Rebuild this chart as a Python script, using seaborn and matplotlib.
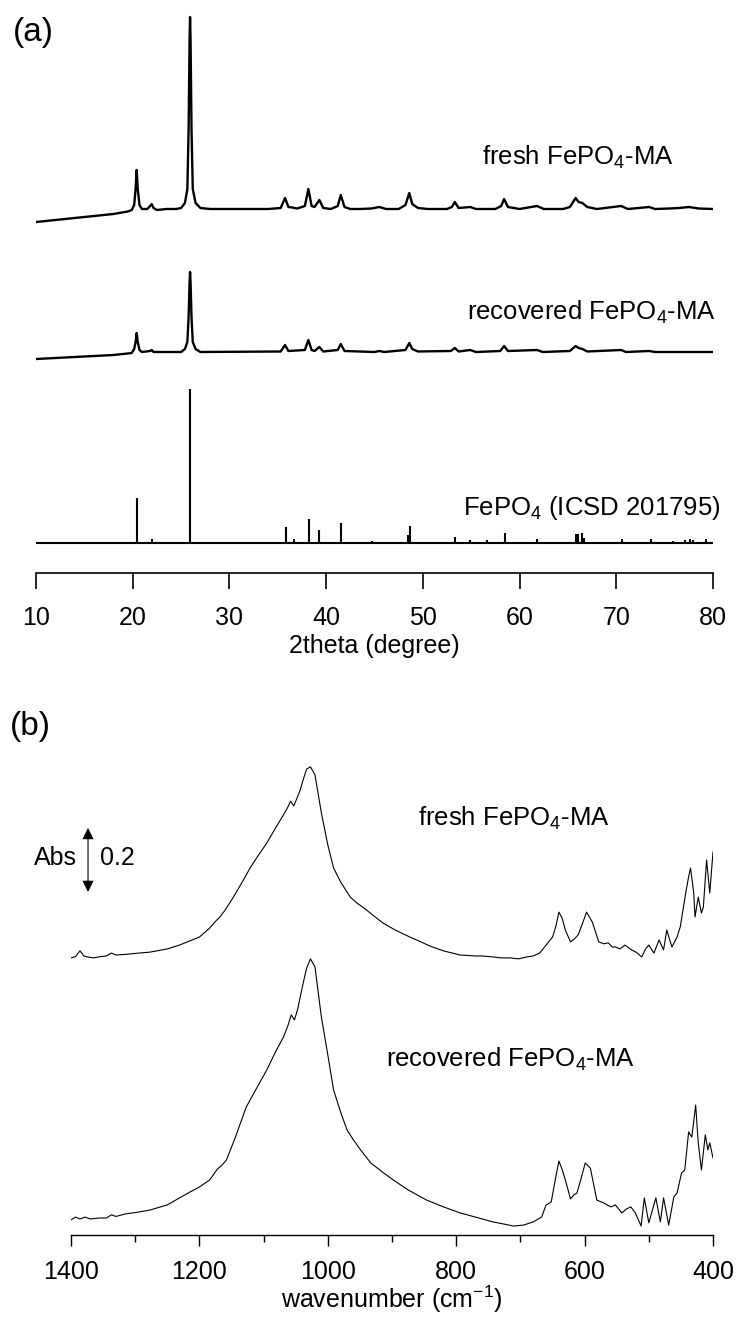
import numpy as np
import pandas as pd
import matplotlib
matplotlib.use("Agg")
import matplotlib.pyplot as plt
import seaborn as sns

# ---------------- (a) XRD data (arbitrary intensity units) ----------------
xrd_fresh_2theta = [10.0, 11.0, 12.0, 14.0, 16.0, 18.0, 19.5, 19.9, 20.15, 20.3, 20.41, 20.52, 20.7, 20.95,
                    21.5, 21.8, 21.96, 22.15, 22.5, 23.5, 24.5, 25.0, 25.4, 25.65, 25.78, 25.88, 25.93, 25.98,
                    26.08, 26.21, 26.5, 27.0, 28.0, 30.0, 32.0, 34.0, 35.3, 35.75, 36.1, 36.5, 37.0, 37.8,
                    38.16, 38.5, 38.8, 39.3, 39.7, 40.5, 41.2, 41.51, 41.9, 42.5, 43.5, 44.7, 45.5, 46.2,
                    47.5, 48.2, 48.6, 48.9, 49.5, 50.5, 52.5, 53.0, 53.3, 53.7, 54.9, 55.5, 57.5, 58.1,
                    58.4, 58.8, 60.0, 61.8, 62.5, 64.5, 65.2, 65.8, 66.1, 66.5, 67.0, 68.0, 70.5, 71.2,
                    73.4, 74.0, 75.5, 76.5, 77.5, 78.5, 80.0]
xrd_fresh_int = [-13, -12, -11, -9, -7, -5, -2.5, -1, 4, 20, 39, 20, 4, 0,
                 0, 3, 5, 1, -1, 0, 0, 1, 6, 20, 80, 170, 192, 170,
                 80, 20, 6, 1, 0, 0, 0, 0, 1, 11, 2, 1.5, 0.5, 3,
                 20, 3, 2, 9, 1, 0, 3, 14, 2, 0, 0, 0.5, 2, 0,
                 0, 4, 16, 5, 1, 0, 0, 2, 7, 1, 2, 0, 0, 3,
                 10, 2, 0, 3, 0, 0, 2, 11, 7, 6, 2, 0, 3, 0,
                 2, 0, 0.5, 1, 2, 0.5, 0]

xrd_rec_2theta = [10.0, 12.0, 14.0, 16.0, 18.0, 19.5, 19.9, 20.15, 20.3, 20.41, 20.52, 20.7, 20.95,
                  21.8, 21.96, 22.15, 25.0, 25.4, 25.65, 25.78, 25.88, 25.93, 25.98, 26.08, 26.21,
                  26.5, 27.0, 35.3, 35.75, 36.1, 37.8, 38.16, 38.5, 38.8, 39.3, 39.7, 41.2, 41.51,
                  41.9, 45.0, 45.5, 46.0, 48.2, 48.6, 48.9, 49.5, 52.9, 53.3, 53.7, 54.9, 55.5, 58.0,
                  58.4, 58.8, 61.8, 62.4, 65.2, 65.8, 66.1, 66.5, 67.0, 70.5, 71.0, 73.4, 74.0, 80.0]
xrd_rec_int = [-7, -6, -5, -4, -3, -1.5, -1, 3, 10, 19, 10, 2, 0,
               1, 2, 0, 0, 3, 10, 35, 70, 80, 70, 35, 10,
               3, 0, 0.5, 7, 1, 2, 12, 2, 1, 5, 0.5, 2, 8,
               1, 0, 1, 0, 2, 9, 3, 0.5, 1, 4, 0.5, 2, 0, 1,
               6, 1, 2, 0, 1, 6, 4, 3, 0.5, 2, 0, 1, 0, 0]

ref_2theta = [20.41, 21.96, 23.79, 25.93, 31.6, 35.82, 36.7, 38.23, 39.30, 41.51, 42.4, 43.4, 44.7,
              45.5, 48.45, 48.68, 53.3, 54.9, 56.6, 58.5, 61.8, 65.8, 66.0, 66.5, 66.7, 70.6, 73.6,
              75.9, 77.1, 77.6, 77.9, 79.3]
ref_int = [45, 4, 1.5, 154, 1, 16, 4, 24, 13, 20, 1, 1, 2,
           1.5, 8, 17, 6, 3, 3, 10, 4, 9, 9, 10, 5, 4, 4,
           2, 3, 4, 3, 4]

xrd_offsets = {"fresh": 364, "recovered": 221, "reference": 30}

# ---------------- (b) FT-IR data (absorbance) ----------------
ir_fresh_wn = [1400, 1393, 1386, 1380, 1375, 1365, 1357, 1345, 1337, 1330, 1315, 1300, 1277, 1250, 1231,
               1215, 1200, 1184, 1176, 1168, 1160, 1148, 1135, 1121, 1110, 1095, 1082, 1069, 1062, 1058,
               1053, 1048, 1043, 1038, 1033, 1027, 1020, 1010, 1000, 991, 980, 965, 955, 950, 940, 927,
               914, 895, 872, 855, 841, 820, 794, 770, 760, 743, 730, 716, 703, 690, 680, 670, 660, 650,
               645, 640, 635, 630, 622, 616, 610, 603, 597, 588, 578, 570, 563, 557, 552, 545, 537, 527,
               520, 511, 505, 500, 492, 484, 477, 472, 464, 456, 451, 446, 442, 438, 435, 430, 428,
               423, 418, 415, 410, 405, 400]
ir_fresh_abs = [0.066, 0.070, 0.088, 0.072, 0.069, 0.066, 0.069, 0.072, 0.081, 0.075, 0.077, 0.080, 0.084,
                0.094, 0.106, 0.119, 0.131, 0.159, 0.178, 0.194, 0.215, 0.253, 0.297, 0.347, 0.381,
                0.425, 0.470, 0.513, 0.538, 0.556, 0.541, 0.565, 0.591, 0.625, 0.656, 0.663, 0.638,
                0.519, 0.419, 0.347, 0.303, 0.256, 0.238, 0.231, 0.216, 0.195, 0.175, 0.153, 0.131,
                0.116, 0.103, 0.088, 0.075, 0.072, 0.072, 0.069, 0.066, 0.066, 0.063, 0.069, 0.072,
                0.081, 0.106, 0.131, 0.163, 0.209, 0.190, 0.153, 0.116, 0.125, 0.138, 0.175, 0.209,
                0.178, 0.116, 0.110, 0.113, 0.100, 0.100, 0.094, 0.106, 0.091, 0.084, 0.069, 0.094,
                0.106, 0.081, 0.122, 0.091, 0.153, 0.100, 0.131, 0.163, 0.225, 0.275, 0.319, 0.347,
                0.269, 0.194, 0.256, 0.206, 0.225, 0.372, 0.269, 0.397]

ir_rec_wn = [1400, 1393, 1386, 1378, 1370, 1357, 1345, 1337, 1330, 1315, 1300, 1277, 1250, 1231, 1215,
             1200, 1184, 1172, 1165, 1158, 1145, 1127, 1110, 1095, 1082, 1069, 1062, 1057, 1052, 1047,
             1043, 1038, 1033, 1027, 1020, 1010, 1000, 991, 980, 970, 960, 949, 933, 915, 898, 875,
             846, 820, 794, 770, 743, 725, 711, 695, 680, 667, 660, 652, 645, 640, 635, 630, 622, 617,
             612, 605, 599, 591, 581, 570, 565, 559, 552, 542, 535, 528, 521, 512, 507, 500, 489, 482,
             477, 469, 461, 456, 449, 444, 438, 433, 427, 423, 418, 412, 408, 405, 400]
ir_rec_abs = [0.047, 0.056, 0.050, 0.056, 0.050, 0.053, 0.053, 0.063, 0.058, 0.066, 0.070, 0.078, 0.094,
              0.116, 0.134, 0.150, 0.172, 0.206, 0.218, 0.234, 0.300, 0.400, 0.462, 0.516, 0.570,
              0.619, 0.655, 0.688, 0.672, 0.705, 0.744, 0.790, 0.834, 0.863, 0.838, 0.681, 0.563,
              0.453, 0.384, 0.328, 0.297, 0.266, 0.225, 0.197, 0.172, 0.141, 0.109, 0.088, 0.069,
              0.056, 0.041, 0.034, 0.028, 0.031, 0.041, 0.056, 0.094, 0.103, 0.180, 0.231, 0.205,
              0.172, 0.113, 0.125, 0.131, 0.180, 0.225, 0.209, 0.109, 0.100, 0.094, 0.088, 0.094,
              0.069, 0.081, 0.088, 0.069, 0.028, 0.116, 0.038, 0.116, 0.041, 0.116, 0.031, 0.119,
              0.131, 0.194, 0.203, 0.322, 0.306, 0.406, 0.288, 0.203, 0.313, 0.266, 0.288, 0.241]

ir_offsets = {"fresh": 0.80, "recovered": 0.0}

xrd_ticks = [10, 20, 30, 40, 50, 60, 70, 80]
ir_major_ticks = [1400, 1200, 1000, 800, 600, 400]
ir_minor_ticks = [1300, 1100, 900, 700, 500]

# ---------------- style ----------------
sns.set_style("white")
plt.rcParams["font.family"] = ["Liberation Sans", "DejaVu Sans"]
plt.rcParams["mathtext.default"] = "regular"
plt.rcParams["text.color"] = "black"
plt.rcParams["axes.labelcolor"] = "black"
plt.rcParams["xtick.color"] = "black"

W, H = 737, 1317
fig = plt.figure(figsize=(W / 100, H / 100), dpi=100)

# ---------------- panel (a) ----------------
axa = fig.add_axes([36 / W, (H - 573) / H, (713 - 36) / W, 568 / H])
df_f = pd.DataFrame({"x": xrd_fresh_2theta, "y": np.array(xrd_fresh_int) + xrd_offsets["fresh"]})
df_r = pd.DataFrame({"x": xrd_rec_2theta, "y": np.array(xrd_rec_int) + xrd_offsets["recovered"]})
sns.lineplot(data=df_f, x="x", y="y", ax=axa, color="black", lw=1.7, estimator=None, sort=False)
sns.lineplot(data=df_r, x="x", y="y", ax=axa, color="black", lw=1.7, estimator=None, sort=False)
axa.hlines(xrd_offsets["reference"], 10, 80, color="black", lw=1.5)
axa.vlines(ref_2theta, xrd_offsets["reference"], np.array(ref_int) + xrd_offsets["reference"],
           color="black", lw=1.5)
axa.set_xlim(10, 80)
axa.set_ylim(0, 568)
axa.set_yticks([])
axa.set_ylabel("")
axa.set_xticks(xrd_ticks)
axa.set_xticklabels([str(t) for t in xrd_ticks])
for s in ["left", "right", "top"]:
    axa.spines[s].set_visible(False)
axa.spines["bottom"].set_linewidth(1.2)
axa.spines["bottom"].set_color("black")
axa.tick_params(axis="x", direction="out", length=11.5, width=1.2, pad=12, labelsize=18,
                bottom=True, colors="black")
axa.set_xlabel("2theta (degree)", fontsize=18, labelpad=3)

fs = 18.5
axa.text(56.12, 408, "fresh FePO$_4$-MA", fontsize=fs, va="baseline", ha="left")
axa.text(54.57, 253, "recovered FePO$_4$-MA", fontsize=fs, va="baseline", ha="left")
axa.text(54.15, 58, "FePO$_4$ (ICSD 201795)", fontsize=fs, va="baseline", ha="left")
fig.text(13 / W, 1 - 33 / H, "(a)", fontsize=24, va="center", ha="left")

# ---------------- panel (b) ----------------
ytop_b = 535 / 320
axb = fig.add_axes([71 / W, (H - 1235) / H, (713 - 71) / W, 535 / H])
df_if = pd.DataFrame({"x": ir_fresh_wn, "y": np.array(ir_fresh_abs) + ir_offsets["fresh"]})
df_ir = pd.DataFrame({"x": ir_rec_wn, "y": np.array(ir_rec_abs) + ir_offsets["recovered"]})
sns.lineplot(data=df_if, x="x", y="y", ax=axb, color="black", lw=0.8, estimator=None, sort=False)
sns.lineplot(data=df_ir, x="x", y="y", ax=axb, color="black", lw=0.8, estimator=None, sort=False)
axb.set_xlim(1400, 400)
axb.set_ylim(0, ytop_b)
axb.set_yticks([])
axb.set_ylabel("")
axb.set_xticks(ir_major_ticks)
axb.set_xticklabels([str(t) for t in ir_major_ticks])
axb.set_xticks(ir_minor_ticks, minor=True)
for s in ["left", "right", "top"]:
    axb.spines[s].set_visible(False)
axb.spines["bottom"].set_linewidth(1.0)
axb.spines["bottom"].set_color("black")
axb.tick_params(axis="x", which="major", direction="out", length=8, width=1.0, pad=10,
                labelsize=18, bottom=True, colors="black")
axb.tick_params(axis="x", which="minor", direction="out", length=5, width=1.0, bottom=True,
                colors="black")
axb.set_xlabel("wavenumber (cm$^{\u2212 1}$)", fontsize=18, labelpad=0)

axb.text(859.5, 1.278, "fresh FePO$_4$-MA", fontsize=fs, va="baseline", ha="left")
axb.text(909, 0.525, "recovered FePO$_4$-MA", fontsize=fs, va="baseline", ha="left")

# Abs scale bar (0.2 Abs)
bar_x, bar_lo, bar_len = 1373.5, 1.072, 0.2
axb.annotate("", xy=(bar_x, bar_lo + bar_len), xytext=(bar_x, bar_lo),
             arrowprops=dict(arrowstyle="<|-|>", color="black", lw=0.8, mutation_scale=17,
                             shrinkA=0, shrinkB=0), annotation_clip=False)
axb.text(1390.7, 1.156, "Abs", fontsize=18, va="baseline", ha="right", clip_on=False)
axb.text(1354.8, 1.156, "0.2", fontsize=18, va="baseline", ha="left", clip_on=False)
fig.text(10 / W, 1 - 727 / H, "(b)", fontsize=24, va="center", ha="left")

fig.savefig("out.png", dpi=100)
